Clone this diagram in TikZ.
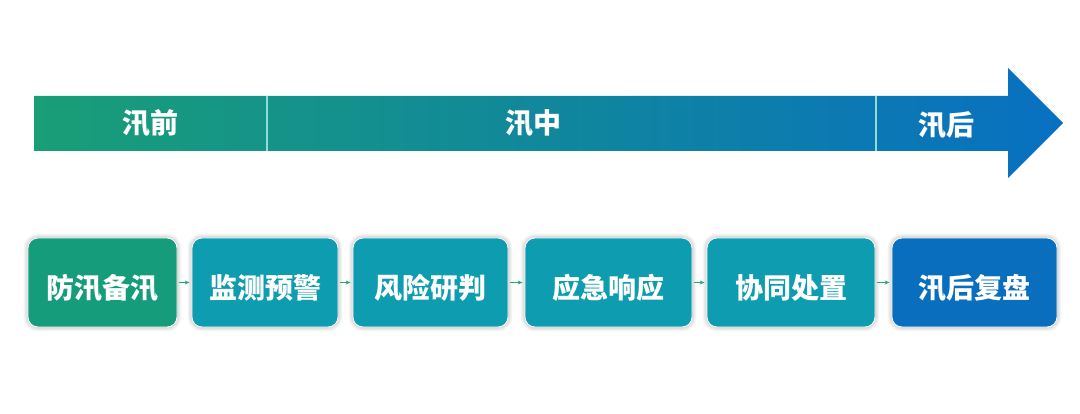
\documentclass[tikz,border=0pt]{standalone}
\usepackage{fontspec}
\newfontfamily\cjk{Noto Sans CJK SC}
\usetikzlibrary{shadows.blur,arrows.meta}
\definecolor{cgreen}{HTML}{149C7B}
\definecolor{cteal}{HTML}{0E9DB0}
\definecolor{cblue}{HTML}{0A6EBE}
\definecolor{ggreen}{HTML}{199E77}
\definecolor{gmid}{HTML}{0D97AB}
\definecolor{gblue}{HTML}{0870C2}
\definecolor{divline}{HTML}{8FDCD6}
\definecolor{linkgreen}{HTML}{2BA77A}
\tikzset{
  lbl/.style={text=white,font=\cjk\bfseries\fontsize{28}{32}\selectfont},
  stepbox/.style={rounded corners=10pt,draw=white,line width=0.8pt,
    minimum height=89pt,inner sep=0pt,text height=36pt,text depth=3pt,
    blur shadow={shadow blur steps=10,shadow xshift=0pt,shadow yshift=0pt,shadow blur extra rounding=3pt,shadow blur radius=5pt,shadow scale=1.0,shadow opacity=35},
    lbl},
  link/.style={draw=linkgreen,line width=0.9pt,-{Stealth[length=5pt,width=4pt]}}
}
\begin{document}
\begin{tikzpicture}[x=1pt,y=-1pt]
\useasboundingbox (0,0) rectangle (1080,414);
% big arrow
\shade[left color=ggreen,middle color=gmid,right color=gblue]
  (34,96) -- (1008,96) -- (1008,68) -- (1063,123) -- (1008,178) -- (1008,151) -- (34,151) -- cycle;
\draw[divline,line width=1.2pt] (267,96) -- (267,151);
\draw[divline,line width=1.2pt] (876,96) -- (876,151);
\node[lbl] (p1) at (150,123) {汛前};
\node[lbl] (p2) at (533,123) {汛中};
\node[lbl] (p3) at (946,125) {汛后};
% boxes
\node[stepbox,fill=cgreen,minimum width=149pt] (b1) at (102.5,282.5) {防汛备汛};
\node[stepbox,fill=cteal,minimum width=146pt] (b2) at (265,282.5) {监测预警};
\node[stepbox,fill=cteal,minimum width=155pt] (b3) at (430.5,282.5) {风险研判};
\node[stepbox,fill=cteal,minimum width=167pt] (b4) at (608.5,282.5) {应急响应};
\node[stepbox,fill=cteal,minimum width=168pt] (b5) at (791,282.5) {协同处置};
\node[stepbox,fill=cblue,minimum width=165pt] (b6) at (974.5,282.5) {汛后复盘};
\draw[link] ([xshift=2pt]b1.east) -- ([xshift=-2pt]b2.west);
\draw[link] ([xshift=2pt]b2.east) -- ([xshift=-2pt]b3.west);
\draw[link] ([xshift=2pt]b3.east) -- ([xshift=-2pt]b4.west);
\draw[link] ([xshift=2pt]b4.east) -- ([xshift=-2pt]b5.west);
\draw[link] ([xshift=2pt]b5.east) -- ([xshift=-2pt]b6.west);
\end{tikzpicture}
\end{document}
